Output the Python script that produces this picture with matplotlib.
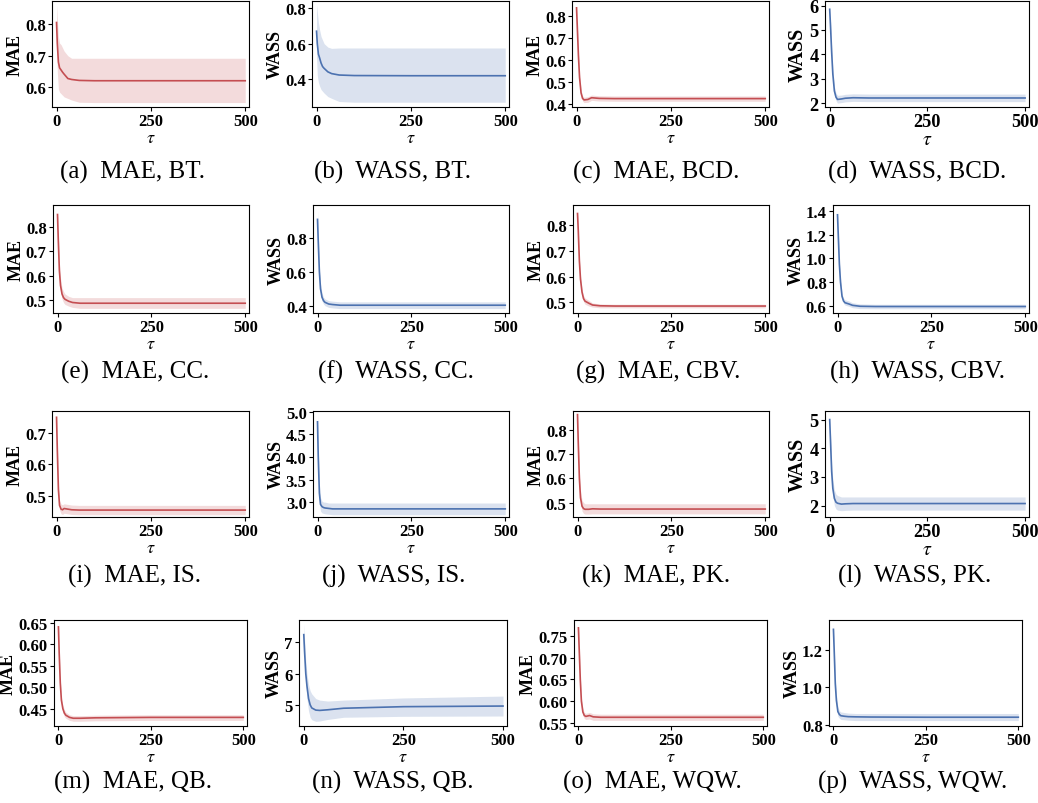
import matplotlib.pyplot as plt

plt.rcParams['font.family'] = ['Liberation Serif', 'DejaVu Serif']
plt.rcParams['mathtext.fontset'] = 'stix'

# sampled tau values shared by every panel
tau = [0, 2, 5, 8, 12, 16, 20, 30, 40, 60, 100, 250, 500]

# (a) MAE, BT.
mae_bt = [0.805, 0.74, 0.68, 0.662, 0.655, 0.648, 0.642, 0.628, 0.625, 0.622, 0.621, 0.621, 0.621]
mae_bt_hi = [0.86, 0.82, 0.76, 0.74, 0.735, 0.725, 0.715, 0.70, 0.692, 0.692, 0.692, 0.692, 0.692]
mae_bt_lo = [0.75, 0.65, 0.595, 0.585, 0.58, 0.575, 0.57, 0.565, 0.56, 0.553, 0.552, 0.552, 0.552]
# (b) WASS, BT.
wass_bt = [0.67, 0.6, 0.54, 0.52, 0.49, 0.47, 0.46, 0.44, 0.43, 0.422, 0.419, 0.418, 0.418]
wass_bt_hi = [0.82, 0.78, 0.72, 0.68, 0.64, 0.62, 0.60, 0.58, 0.573, 0.575, 0.575, 0.575, 0.575]
wass_bt_lo = [0.52, 0.42, 0.38, 0.36, 0.34, 0.33, 0.32, 0.30, 0.29, 0.272, 0.268, 0.268, 0.268]
# (c) MAE, BCD.
mae_bcd = [0.835, 0.75, 0.62, 0.52, 0.45, 0.425, 0.418, 0.42, 0.428, 0.425, 0.424, 0.424, 0.424]
mae_bcd_hi = [0.848, 0.762, 0.632, 0.532, 0.462, 0.437, 0.43, 0.433, 0.44, 0.437, 0.436, 0.436, 0.436]
mae_bcd_lo = [0.822, 0.738, 0.608, 0.508, 0.438, 0.413, 0.406, 0.407, 0.416, 0.413, 0.412, 0.412, 0.412]
# (d) WASS, BCD.
wass_bcd = [5.85, 5.2, 4.1, 3.2, 2.5, 2.25, 2.15, 2.17, 2.2, 2.22, 2.21, 2.21, 2.21]
wass_bcd_hi = [6.05, 5.4, 4.3, 3.4, 2.68, 2.42, 2.32, 2.33, 2.36, 2.38, 2.37, 2.37, 2.37]
wass_bcd_lo = [5.7, 5.0, 3.9, 3.0, 2.33, 2.1, 2.0, 2.02, 2.05, 2.07, 2.06, 2.06, 2.06]
# (e) MAE, CC.
mae_cc = [0.85, 0.75, 0.62, 0.56, 0.525, 0.51, 0.503, 0.495, 0.49, 0.487, 0.487, 0.487, 0.487]
mae_cc_hi = [0.865, 0.77, 0.65, 0.59, 0.55, 0.535, 0.525, 0.515, 0.51, 0.51, 0.51, 0.51, 0.51]
mae_cc_lo = [0.835, 0.73, 0.6, 0.535, 0.505, 0.49, 0.482, 0.475, 0.47, 0.466, 0.466, 0.466, 0.466]
# (f) WASS, CC.
wass_cc = [0.91, 0.78, 0.6, 0.5, 0.45, 0.43, 0.42, 0.41, 0.407, 0.403, 0.403, 0.403, 0.403]
wass_cc_hi = [0.96, 0.82, 0.63, 0.53, 0.475, 0.45, 0.44, 0.43, 0.427, 0.423, 0.423, 0.423, 0.423]
wass_cc_lo = [0.88, 0.75, 0.57, 0.475, 0.428, 0.41, 0.4, 0.39, 0.387, 0.383, 0.383, 0.383, 0.383]
# (g) MAE, CBV.
mae_cbv = [0.845, 0.78, 0.66, 0.59, 0.54, 0.515, 0.505, 0.497, 0.49, 0.487, 0.486, 0.486, 0.486]
mae_cbv_hi = [0.858, 0.79, 0.672, 0.602, 0.552, 0.527, 0.517, 0.508, 0.498, 0.494, 0.493, 0.493, 0.493]
mae_cbv_lo = [0.832, 0.77, 0.648, 0.578, 0.528, 0.503, 0.493, 0.486, 0.482, 0.479, 0.479, 0.479, 0.479]
# (h) WASS, CBV.
wass_cbv = [1.37, 1.2, 0.95, 0.8, 0.68, 0.64, 0.625, 0.615, 0.603, 0.595, 0.593, 0.593, 0.593]
wass_cbv_hi = [1.4, 1.23, 0.98, 0.83, 0.7, 0.665, 0.65, 0.64, 0.625, 0.615, 0.612, 0.612, 0.612]
wass_cbv_lo = [1.34, 1.17, 0.92, 0.77, 0.66, 0.62, 0.605, 0.595, 0.583, 0.575, 0.574, 0.574, 0.574]
# (i) MAE, IS.
mae_is = [0.75, 0.65, 0.52, 0.47, 0.458, 0.456, 0.46, 0.458, 0.456, 0.455, 0.455, 0.455, 0.455]
mae_is_hi = [0.765, 0.665, 0.535, 0.485, 0.474, 0.472, 0.475, 0.473, 0.471, 0.47, 0.47, 0.47, 0.47]
mae_is_lo = [0.735, 0.635, 0.505, 0.455, 0.443, 0.441, 0.445, 0.443, 0.441, 0.44, 0.44, 0.44, 0.44]
# (j) WASS, IS.
wass_is = [4.78, 4.0, 3.2, 2.95, 2.9, 2.88, 2.87, 2.86, 2.85, 2.85, 2.85, 2.85, 2.85]
wass_is_hi = [4.95, 4.2, 3.4, 3.1, 3.02, 3.0, 3.0, 2.98, 2.98, 2.98, 2.98, 2.98, 2.98]
wass_is_lo = [4.6, 3.8, 3.0, 2.8, 2.76, 2.75, 2.74, 2.73, 2.72, 2.72, 2.72, 2.72, 2.72]
# (k) MAE, PK.
mae_pk = [0.865, 0.75, 0.6, 0.52, 0.485, 0.475, 0.472, 0.472, 0.474, 0.473, 0.473, 0.473, 0.473]
mae_pk_hi = [0.875, 0.77, 0.625, 0.55, 0.51, 0.5, 0.495, 0.495, 0.495, 0.495, 0.495, 0.495, 0.495]
mae_pk_lo = [0.855, 0.73, 0.58, 0.5, 0.465, 0.455, 0.452, 0.452, 0.453, 0.453, 0.453, 0.453, 0.453]
# (l) WASS, PK.
wass_pk = [5.0, 4.3, 3.2, 2.6, 2.25, 2.12, 2.08, 2.05, 2.06, 2.07, 2.07, 2.07, 2.07]
wass_pk_hi = [5.15, 4.5, 3.5, 2.9, 2.55, 2.4, 2.35, 2.3, 2.3, 2.3, 2.3, 2.3, 2.3]
wass_pk_lo = [4.85, 4.1, 2.95, 2.35, 2.0, 1.88, 1.84, 1.82, 1.83, 1.84, 1.84, 1.84, 1.84]
# (m) MAE, QB.
mae_qb = [0.64, 0.58, 0.51, 0.47, 0.45, 0.44, 0.435, 0.43, 0.428, 0.428, 0.429, 0.43, 0.43]
mae_qb_hi = [0.645, 0.587, 0.518, 0.478, 0.458, 0.448, 0.442, 0.436, 0.434, 0.434, 0.435, 0.436, 0.436]
mae_qb_lo = [0.635, 0.573, 0.502, 0.462, 0.442, 0.432, 0.428, 0.423, 0.421, 0.421, 0.422, 0.423, 0.423]
# (n) WASS, QB.
wass_qb = [7.25, 6.7, 6.0, 5.6, 5.2, 5.0, 4.9, 4.83, 4.82, 4.84, 4.89, 4.94, 4.96]
wass_qb_hi = [7.6, 7.1, 6.4, 6.0, 5.65, 5.45, 5.35, 5.2, 5.15, 5.12, 5.15, 5.22, 5.28]
wass_qb_lo = [7.0, 6.4, 5.65, 5.2, 4.8, 4.6, 4.52, 4.47, 4.48, 4.53, 4.6, 4.63, 4.64]
# (o) MAE, WQW.
mae_wqw = [0.768, 0.72, 0.65, 0.6, 0.575, 0.567, 0.565, 0.567, 0.564, 0.563, 0.563, 0.563, 0.563]
mae_wqw_hi = [0.775, 0.728, 0.658, 0.608, 0.583, 0.574, 0.572, 0.574, 0.571, 0.57, 0.57, 0.57, 0.57]
mae_wqw_lo = [0.76, 0.712, 0.642, 0.592, 0.567, 0.56, 0.558, 0.559, 0.556, 0.556, 0.556, 0.556, 0.556]
# (p) WASS, WQW.
wass_wqw = [1.31, 1.2, 1.02, 0.93, 0.87, 0.855, 0.848, 0.845, 0.843, 0.842, 0.841, 0.84, 0.84]
wass_wqw_hi = [1.34, 1.23, 1.05, 0.96, 0.895, 0.875, 0.868, 0.865, 0.862, 0.86, 0.86, 0.86, 0.86]
wass_wqw_lo = [1.28, 1.17, 0.99, 0.9, 0.845, 0.835, 0.828, 0.826, 0.824, 0.822, 0.822, 0.822, 0.822]

captions = ['(a)  MAE, BT.', '(b)  WASS, BT.', '(c)  MAE, BCD.', '(d)  WASS, BCD.',
            '(e)  MAE, CC.', '(f)  WASS, CC.', '(g)  MAE, CBV.', '(h)  WASS, CBV.',
            '(i)  MAE, IS.', '(j)  WASS, IS.', '(k)  MAE, PK.', '(l)  WASS, PK.',
            '(m)  MAE, QB.', '(n)  WASS, QB.', '(o)  MAE, WQW.', '(p)  WASS, WQW.']

yticks = [['0.6', '0.7', '0.8'], ['0.4', '0.6', '0.8'],
          ['0.4', '0.5', '0.6', '0.7', '0.8'], ['2', '3', '4', '5', '6'],
          ['0.5', '0.6', '0.7', '0.8'], ['0.4', '0.6', '0.8'],
          ['0.5', '0.6', '0.7', '0.8'], ['0.6', '0.8', '1.0', '1.2', '1.4'],
          ['0.5', '0.6', '0.7'], ['3.0', '3.5', '4.0', '4.5', '5.0'],
          ['0.5', '0.6', '0.7', '0.8'], ['2', '3', '4', '5'],
          ['0.45', '0.50', '0.55', '0.60', '0.65'], ['5', '6', '7'],
          ['0.55', '0.60', '0.65', '0.70', '0.75'], ['0.8', '1.0', '1.2']]

series = [(mae_bt, mae_bt_lo, mae_bt_hi), (wass_bt, wass_bt_lo, wass_bt_hi),
          (mae_bcd, mae_bcd_lo, mae_bcd_hi), (wass_bcd, wass_bcd_lo, wass_bcd_hi),
          (mae_cc, mae_cc_lo, mae_cc_hi), (wass_cc, wass_cc_lo, wass_cc_hi),
          (mae_cbv, mae_cbv_lo, mae_cbv_hi), (wass_cbv, wass_cbv_lo, wass_cbv_hi),
          (mae_is, mae_is_lo, mae_is_hi), (wass_is, wass_is_lo, wass_is_hi),
          (mae_pk, mae_pk_lo, mae_pk_hi), (wass_pk, wass_pk_lo, wass_pk_hi),
          (mae_qb, mae_qb_lo, mae_qb_hi), (wass_qb, wass_qb_lo, wass_qb_hi),
          (mae_wqw, mae_wqw_lo, mae_wqw_hi), (wass_wqw, wass_wqw_lo, wass_wqw_hi)]

# layout in pixels: axes left/right per panel, top/bottom per row, y limits
W, H = 1038, 804
lefts = [52, 312, 572, 825, 53, 313, 573, 833, 52, 313, 573, 825, 54, 299, 574, 829]
rights = [249, 509, 769, 1029, 249, 509, 769, 1029, 249, 509, 769, 1029, 247, 507, 767, 1022]
tops = [2, 206, 412, 621]
bottoms = [108, 314, 518, 727]
cap_x = [132, 392, 656, 917, 135, 396, 658, 917, 135, 394, 656, 915, 133, 393, 652, 913]
cap_y = [172, 372, 576, 782]
ylims = [(0.538, 0.873), (0.241, 0.841), (0.386, 0.866), (1.84, 6.19),
         (0.447, 0.889), (0.357, 0.995), (0.459, 0.878), (0.538, 1.453),
         (0.433, 0.77), (2.67, 5.02), (0.44, 0.88), (1.6, 5.3),
         (0.41, 0.656), (4.32, 7.72), (0.543, 0.786), (0.793, 1.36)]
# (d) and (l) were scaled up a little in the source figure
scale = [1, 1, 1, 1.1, 1, 1, 1, 1, 1, 1, 1, 1.1, 1, 1, 1, 1]

red = '#C44E52'
blue = '#4C72B0'

fig = plt.figure(figsize=(W / 100, H / 100), dpi=100)

for i in range(16):
    row = i // 4
    l, r = lefts[i], rights[i]
    t, b = tops[row], bottoms[row]
    s = scale[i]
    ax = fig.add_axes([l / W, 1 - b / H, (r - l) / W, (b - t) / H])
    mean, lo, hi = series[i]
    color = red if i % 2 == 0 else blue
    ax.fill_between(tau, lo, hi, color=color, alpha=0.2, linewidth=0)
    ax.plot(tau, mean, color=color, linewidth=1.2)
    ax.set_xlim(-12, 510)
    ax.set_ylim(ylims[i])
    ax.set_xticks([0, 250, 500])
    ax.set_yticks([float(v) for v in yticks[i]])
    ax.set_yticklabels(yticks[i])
    ax.tick_params(labelsize=12 * s, length=3, pad=1.5)
    for lab in ax.get_xticklabels() + ax.get_yticklabels():
        lab.set_fontweight('bold')
    ax.set_xlabel(r'$\tau$', fontsize=13 * s, labelpad=0)
    ax.set_ylabel('MAE' if i % 2 == 0 else 'WASS', fontsize=13 * s, fontweight='bold', labelpad=1)
    fig.text(cap_x[i] / W, 1 - cap_y[row] / H, captions[i], ha='center', va='center', fontsize=18)

plt.savefig('out.png', dpi=100)
